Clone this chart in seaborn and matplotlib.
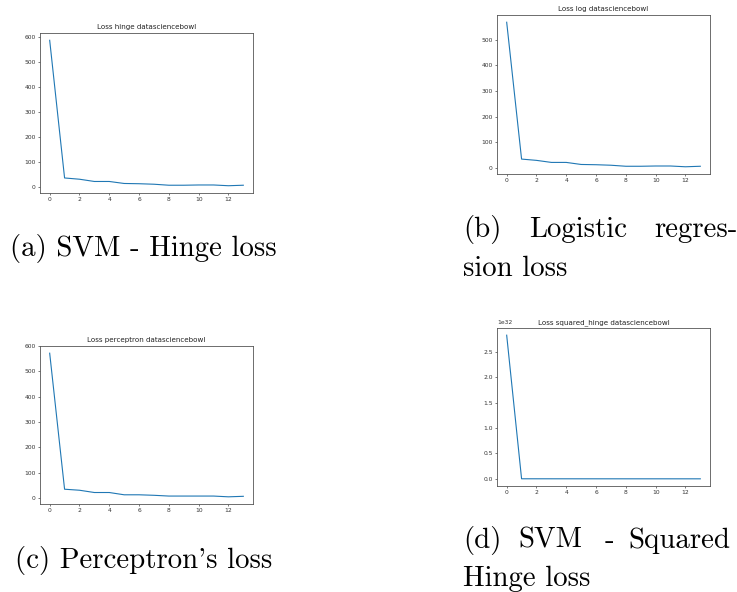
import matplotlib
matplotlib.use("Agg")
import matplotlib.pyplot as plt
import seaborn as sns
import pandas as pd

epochs = list(range(14))
hinge = [585, 35, 30, 21, 21, 13, 12, 10, 6, 6, 7, 7, 4, 6]
log_loss = [568, 34, 29, 21, 21, 13, 12, 10, 6, 6, 7, 7, 4, 6]
perceptron = [572, 35, 31, 22, 22, 13, 13, 11, 8, 8, 8, 8, 5, 7]
squared_hinge = [2.83e32, 1e29, 9e28, 8e28, 7e28, 6e28, 5e28, 5e28, 4e28, 4e28, 4e28, 3e28, 3e28, 3e28]

titles = ["Loss hinge datasciencebowl", "Loss log datasciencebowl",
          "Loss perceptron datasciencebowl", "Loss squared_hinge datasciencebowl"]

W, H = 737, 592
fig = plt.figure(figsize=(W / 100, H / 100), dpi=100)

S = 0.43
# (left px, top px, right px, bottom px)
boxes = [(40, 33, 253, 193), (497, 15, 710, 174), (40, 346, 253, 504), (497, 328, 710, 486)]
series = [hinge, log_loss, perceptron, squared_hinge]

for (l, t, r, b), vals, title in zip(boxes, series, titles):
    ax = fig.add_axes([l / W, 1 - b / H, (r - l) / W, (b - t) / H])
    df = pd.DataFrame({"epoch": epochs, "loss": vals})
    sns.lineplot(data=df, x="epoch", y="loss", ax=ax, color="#1f77b4", linewidth=0.8)
    ax.set_xlabel("")
    ax.set_ylabel("")
    ax.set_title(title, fontsize=12 * S, pad=6 * S, family="DejaVu Sans", color="#222222")
    ax.tick_params(labelsize=10 * S, length=3.5 * S, width=0.5, pad=3.5 * S,
                   color="#444444", labelcolor="#333333")
    ax.set_xticks([0, 2, 4, 6, 8, 10, 12])
    for sp in ax.spines.values():
        sp.set_linewidth(0.6)
        sp.set_color("#555555")
    ax.yaxis.get_offset_text().set_fontsize(10 * S)
    ax.yaxis.get_offset_text().set_color("#333333")

cap_font = dict(family="cmr10", fontsize=20.8, va="baseline", ha="left", color="black")

def put(x, y, s):
    fig.text(x / W, 1 - y / H, s, **cap_font)

put(10, 256, "(a) SVM - Hinge loss")
put(463, 237, "(b)")
put(529, 237, "Logistic")
put(654, 237, "regres-")
put(463, 276, "sion loss")
put(15, 568, "(c) Perceptron's loss")
put(463, 548, "(d)")
put(518, 548, "SVM")
put(605, 548, "-")
put(628, 548, "Squared")
put(463, 586, "Hinge loss")

fig.savefig("out.png", dpi=100)
